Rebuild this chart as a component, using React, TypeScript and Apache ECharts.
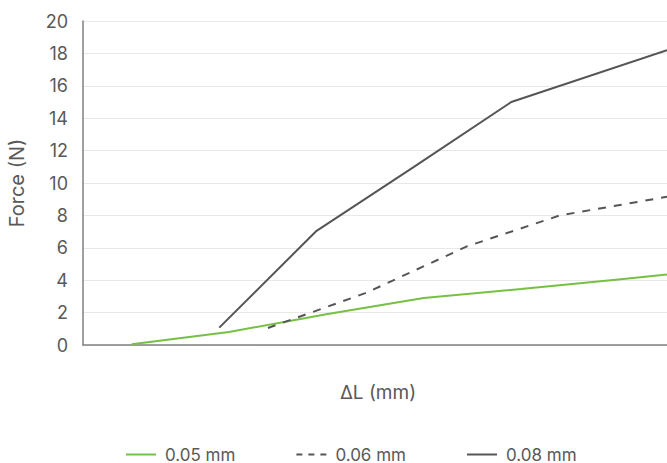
import React, { useEffect, useRef } from "react";
import * as echarts from "echarts";

const seriesNames = ["0.05 mm", "0.06 mm", "0.08 mm"];
const green005: [number, number][] = [
  [0.5, 0.05], [1.5, 0.8], [2.5, 1.9], [3.5, 2.9], [4.5, 3.45], [5.5, 4.05], [6, 4.35],
];
const dashed006: [number, number][] = [
  [1.9, 1.05], [2.9, 3.2], [3.95, 6.1], [4.9, 8.0], [6, 9.15],
];
const solid008: [number, number][] = [
  [1.4, 1.07], [2.4, 7.05], [3.4, 11.0], [4.4, 15.0], [6, 18.2],
];
const yTicks = [0, 2, 4, 6, 8, 10, 12, 14, 16, 18, 20];

const FONT = "Inter, 'Noto Sans', sans-serif";
const TXT = "#595959";

export default function App() {
  const ref = useRef<HTMLDivElement>(null);
  useEffect(() => {
    if (!ref.current) return;
    const chart = echarts.init(ref.current, undefined, { renderer: "svg" });
    chart.setOption({
      animation: false,
      textStyle: { fontFamily: FONT, color: TXT },
      grid: { left: 83, top: 21, right: 0, bottom: 118, containLabel: false, outerBoundsMode: "none" },
      legend: {
        left: 120,
        top: 441,
        itemWidth: 30,
        itemHeight: 10,
        itemGap: 60,
        itemStyle: { opacity: 0 },
        textStyle: { fontFamily: FONT, color: TXT, fontSize: 17, padding: [0, 0, 0, 4] },
        data: [
          { name: seriesNames[0] },
          { name: seriesNames[1], lineStyle: { type: [6, 6], width: 2, color: "#555555" } },
          { name: seriesNames[2] },
        ],
      },
      xAxis: {
        type: "value",
        min: 0,
        max: 6,
        name: "ΔL (mm)",
        nameLocation: "middle",
        nameGap: 38,
        nameTextStyle: { fontFamily: FONT, color: TXT, fontSize: 19, padding: [0, 0, 0, 6] },
        axisLine: { show: true, lineStyle: { color: "#808080", width: 1.5 } },
        axisTick: { show: false },
        axisLabel: { show: false },
        splitLine: { show: false },
      },
      yAxis: {
        type: "value",
        min: yTicks[0],
        max: yTicks[yTicks.length - 1],
        interval: 2,
        name: "Force (N)",
        nameLocation: "middle",
        nameGap: 56,
        nameRotate: 90,
        nameTextStyle: { fontFamily: FONT, color: TXT, fontSize: 20 },
        axisLine: { show: true, lineStyle: { color: "#808080", width: 1.5 } },
        axisTick: { show: false },
        axisLabel: { fontFamily: FONT, color: TXT, fontSize: 18, margin: 15 },
        splitLine: { show: true, lineStyle: { color: "#e8e8e8", width: 1 } },
      },
      series: [
        {
          name: seriesNames[0],
          type: "line",
          data: green005,
          symbol: "none",
          lineStyle: { color: "#76c043", width: 2 },
          itemStyle: { color: "#76c043" },
        },
        {
          name: seriesNames[1],
          type: "line",
          data: dashed006,
          symbol: "none",
          lineStyle: { color: "#555555", width: 2, type: [8, 8] },
          itemStyle: { color: "#555555" },
        },
        {
          name: seriesNames[2],
          type: "line",
          data: solid008,
          symbol: "none",
          lineStyle: { color: "#555555", width: 2 },
          itemStyle: { color: "#555555" },
        },
      ],
    });
    return () => chart.dispose();
  }, []);
  return <div ref={ref} style={{ width: 667, height: 463, position: "absolute", left: 0, top: 0 }} />;
}
